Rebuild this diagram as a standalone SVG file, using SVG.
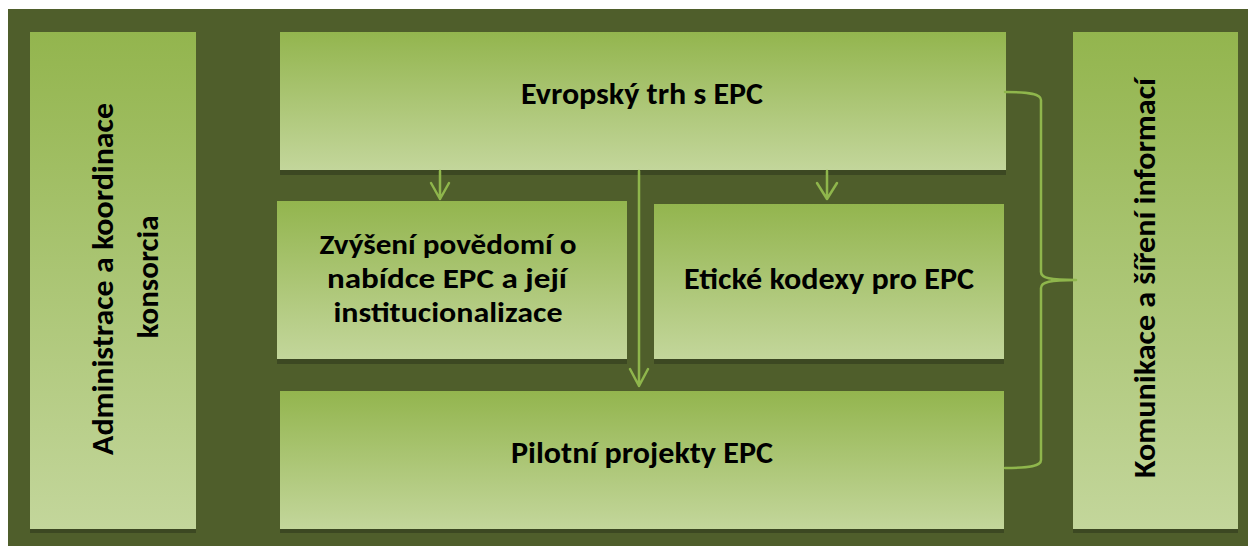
<svg xmlns="http://www.w3.org/2000/svg" width="1248" height="546" viewBox="0 0 1248 546">
<defs>
<linearGradient id="g" x1="0" y1="0" x2="0" y2="1">
<stop offset="0" stop-color="#93B54E"/>
<stop offset="1" stop-color="#C3D69B"/>
</linearGradient>
<style>
.box{fill:url(#g);}
.sh{fill:#3C4822;}
.t{font-family:Carlito,"Open Sans",Lato,"Liberation Sans",sans-serif;font-weight:bold;font-size:31px;fill:#000;text-anchor:middle;}
.m{font-size:28px;}
.c{fill:none;stroke:#8FB64C;stroke-width:2.5;stroke-linecap:round;stroke-linejoin:round;}
</style>
</defs>
<rect x="0" y="0" width="1248" height="546" fill="#FFFFFF"/>
<rect x="8" y="9" width="1240" height="537" fill="#4F5E2B"/>
<g id="admin">
<rect class="sh" x="30" y="529" width="166" height="4"/>
<rect class="box" x="30" y="32" width="166" height="497"/>
<text class="t" transform="translate(113,279) rotate(-90)" textLength="352" lengthAdjust="spacingAndGlyphs">Administrace a koordinace</text>
<text class="t" transform="translate(158,277) rotate(-90)" textLength="123" lengthAdjust="spacingAndGlyphs">konsorcia</text>
</g>
<g id="trh">
<rect class="sh" x="280" y="170" width="726" height="5"/>
<rect class="box" x="280" y="32" width="726" height="138"/>
<text class="t" x="642" y="104" textLength="242" lengthAdjust="spacingAndGlyphs">Evropský trh s EPC</text>
</g>
<g id="povedomi">
<rect class="sh" x="277" y="359" width="350" height="5"/>
<rect class="box" x="277" y="201" width="350" height="158"/>
<text class="t m" x="448" y="254" textLength="257" lengthAdjust="spacingAndGlyphs">Zvýšení povědomí o</text>
<text class="t m" x="447" y="288" textLength="240" lengthAdjust="spacingAndGlyphs">nabídce EPC a její</text>
<text class="t m" x="448" y="322" textLength="229" lengthAdjust="spacingAndGlyphs">institucionalizace</text>
</g>
<g id="kodexy">
<rect class="sh" x="654" y="359" width="350" height="5"/>
<rect class="box" x="654" y="204" width="350" height="155"/>
<text class="t" x="829" y="289" textLength="290" lengthAdjust="spacingAndGlyphs">Etické kodexy pro EPC</text>
</g>
<g id="pilot">
<rect class="sh" x="280" y="529" width="724" height="4"/>
<rect class="box" x="280" y="391" width="724" height="138"/>
<text class="t" x="642" y="463" textLength="262" lengthAdjust="spacingAndGlyphs">Pilotní projekty EPC</text>
</g>
<g id="komunikace">
<rect class="sh" x="1073" y="529" width="165" height="4"/>
<rect class="box" x="1073" y="32" width="165" height="497"/>
<text class="t" transform="translate(1155,278) rotate(-90)" textLength="400" lengthAdjust="spacingAndGlyphs">Komunikace a šíření informací</text>
</g>
<g id="connectors">
<path class="c" d="M440,171 L440,199 M431,183 L440,199 L449,183"/>
<path class="c" d="M827,171 L827,199 M817,183 L827,199 L837,183"/>
<path class="c" d="M639,171 L639,386 M630,369 L639,386 L648,369"/>
<path class="c" d="M1005,92 C1030,92 1041,94 1041,100 L1041,272 C1041,278 1050,280 1076,280 C1050,280 1041,282 1041,288 L1041,460 C1041,466 1030,468 1005,468"/>
</g>
</svg>
